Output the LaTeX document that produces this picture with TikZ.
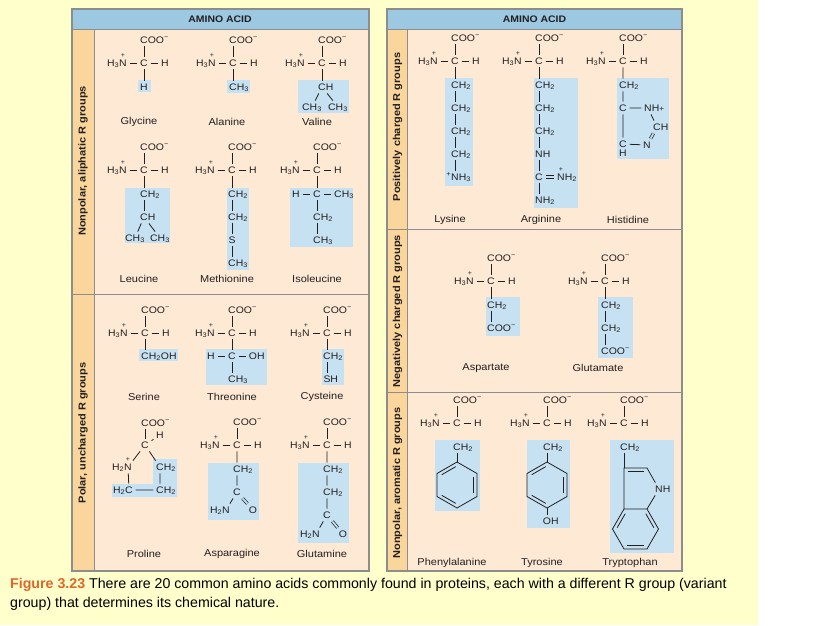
\documentclass[tikz,border=0pt]{standalone}
\usepackage{fontspec}
\setmainfont{Liberation Sans}[FakeStretch=1.1]
\newfontfamily\capfont{Liberation Sans}
\usetikzlibrary{calc}

\definecolor{bgyellow}{HTML}{FFFFCC}
\definecolor{panel}{HTML}{FDE9D4}
\definecolor{strip}{HTML}{FAD59C}
\definecolor{headblue}{HTML}{9CC8E1}
\definecolor{rblue}{HTML}{C6E1F1}
\definecolor{rulegrey}{HTML}{8D8D8D}
\definecolor{figorange}{HTML}{E0662A}
\definecolor{ink}{HTML}{231F20}

\newcommand{\Two}{\textsubscript{2}}
\newcommand{\Three}{\textsubscript{3}}
\newcommand{\Minus}{\textsuperscript{−}}

\tikzset{
  atom/.style={inner xsep=2.6pt, inner ysep=2.8pt, font=\fontsize{9.5}{11}\selectfont, text height=6.8pt, text depth=0pt, text=ink},
  charge/.style={font=\fontsize{6.5}{6.5}\selectfont, inner sep=0pt, text=ink, label distance=-1.5pt},
  bond/.style={draw=ink, line width=0.8pt},
  dbl/.style={draw=ink, line width=0.7pt, double=rblue, double distance=1.8pt},
  inner/.style={shorten >=1.5pt, shorten <=1.5pt},
  aaname/.style={font=\fontsize{10}{12}\selectfont, text=ink, inner sep=0pt},
  grouplabel/.style={font=\fontsize{10}{12}\selectfont\bfseries, rotate=90, text=ink, inner sep=0pt},
  header/.style={font=\fontsize{9.5}{11}\selectfont\bfseries, text=ink, inner sep=0pt},
  caption/.style={anchor=base west, inner sep=0pt, font=\capfont\fontsize{14.2}{19}\selectfont},
  rule/.style={draw=rulegrey, line width=0.8pt},
  frame/.style={draw=rulegrey, line width=1.2pt},
}

% backbone: id, x, y of the alpha carbon
\newcommand{\aminoacid}[3]{%
  \node[atom] (#1-c) at (#2,#3) {C};
  \node[atom] (#1-coo) at (#2,#3-23) {C\rlap{OO\Minus}};
  \node[atom, label={[charge]above:+}] (#1-n) at (#2-21,#3) {\llap{H\Three}N};
  \node[atom] (#1-h) at (#2+21,#3) {H};
  \draw[bond] (#1-coo) -- (#1-c);
  \draw[bond] (#1-n) -- (#1-c) -- (#1-h);
}

% benzene ring, pointy top: id, x, y of the centre
\newcommand{\benzene}[3]{%
  \coordinate (#10) at (#2,#3);
  \coordinate (#11) at (#2,#3-23);
  \coordinate (#12) at (#2+20,#3-11.5);
  \coordinate (#13) at (#2+20,#3+11.5);
  \coordinate (#14) at (#2,#3+23);
  \coordinate (#15) at (#2-20,#3+11.5);
  \coordinate (#16) at (#2-20,#3-11.5);
  \draw[bond] (#11) -- (#12) -- (#13) -- (#14) -- (#15) -- (#16) -- cycle;
  \draw[bond, inner] ($(#12)!.17!(#10)$) -- ($(#13)!.17!(#10)$);
  \draw[bond, inner] ($(#14)!.17!(#10)$) -- ($(#15)!.17!(#10)$);
  \draw[bond, inner] ($(#16)!.17!(#10)$) -- ($(#11)!.17!(#10)$);
}

\begin{document}
\begin{tikzpicture}[x=1pt, y=-1pt]
  \useasboundingbox (0,0) rectangle (828,625);
  \fill[bgyellow] (0,0) rectangle (758,625);
  \fill[white] (758,0) rectangle (828,625);

  % left table
  \fill[panel] (72,9) rectangle (369,571);
  \fill[strip] (72,29) rectangle (94,571);
  \fill[headblue] (72,9) rectangle (369,29);
  \draw[rule] (94,29) -- (94,571);
  \draw[rule] (72,29) -- (369,29);
  \draw[rule] (72,294) -- (369,294);
  \draw[frame] (72,9) rectangle (369,571);
  \node[header] (lhead) at (220,19) {AMINO ACID};
  \node[grouplabel] (lside1) at (83,161) {Nonpolar, aliphatic R groups};
  \node[grouplabel] (lside2) at (83,433) {Polar, uncharged R groups};

  % right table
  \fill[panel] (387,9) rectangle (682,571);
  \fill[strip] (387,29) rectangle (407,571);
  \fill[headblue] (387,9) rectangle (682,29);
  \draw[rule] (407,29) -- (407,571);
  \draw[rule] (387,29) -- (682,29);
  \draw[rule] (387,229) -- (682,229);
  \draw[rule] (387,392) -- (682,392);
  \draw[frame] (387,9) rectangle (682,571);
  \node[header] (rhead) at (534.5,19) {AMINO ACID};
  \node[grouplabel] (rside1) at (397.5,127) {Positively charged R groups};
  \node[grouplabel] (rside2) at (397.5,311) {Negatively charged R groups};
  \node[grouplabel] (rside3) at (397.5,483) {Nonpolar, aromatic R groups};

  % R group boxes
  \fill[rblue] (138,80) rectangle (151,92);
  \fill[rblue] (227,80) rectangle (250,93);
  \fill[rblue] (298,80) rectangle (349,113);
  \fill[rblue] (125,188) rectangle (170,243);
  \fill[rblue] (227,188) rectangle (249,270);
  \fill[rblue] (290,188) rectangle (353,247);
  \fill[rblue] (139,349) rectangle (178,361);
  \fill[rblue] (206,349) rectangle (267,385);
  \fill[rblue] (322,349) rectangle (344,385);
  \fill[rblue] (153,459) -- (177,459) -- (177,497) -- (112,497) -- (112,484) -- (153,484) -- cycle;
  \fill[rblue] (208,463) rectangle (259,520);
  \fill[rblue] (298,463) rectangle (349,543);
  \fill[rblue] (445,78) rectangle (473,186);
  \fill[rblue] (534,78) rectangle (578,208);
  \fill[rblue] (617,78) rectangle (669,159);
  \fill[rblue] (486,297) rectangle (520,336);
  \fill[rblue] (598,297) rectangle (633,358);
  \fill[rblue] (435,440) rectangle (480,511);
  \fill[rblue] (527,440) rectangle (570,528);
  \fill[rblue] (610,440) rectangle (674,553);

  % glycine
  \aminoacid{gly}{144}{63}
  \node[atom] (gly-r1) at (144,87) {H};
  \draw[bond] (gly-c) -- (gly-r1);
  % alanine
  \aminoacid{ala}{233}{63}
  \node[atom] (ala-r1) at (233,87) {C\rlap{H\Three}};
  \draw[bond] (ala-c) -- (ala-r1);
  % valine
  \aminoacid{val}{322}{63}
  \node[atom] (val-r1) at (322,87) {C\rlap{H}};
  \node[atom] (val-r2) at (312,107) {CH\Three};
  \node[atom] (val-r3) at (338,107) {CH\Three};
  \draw[bond] (val-c) -- (val-r1);
  \draw[bond] (val-r1) -- (val-r2);
  \draw[bond] (val-r1) -- (val-r3);

  % leucine
  \aminoacid{leu}{144}{170}
  \node[atom] (leu-r1) at (144,194) {C\rlap{H\Two}};
  \node[atom] (leu-r2) at (144,217) {C\rlap{H}};
  \node[atom] (leu-r3) at (135,238) {CH\Three};
  \node[atom] (leu-r4) at (160,238) {CH\Three};
  \draw[bond] (leu-c) -- (leu-r1) -- (leu-r2);
  \draw[bond] (leu-r2) -- (leu-r3);
  \draw[bond] (leu-r2) -- (leu-r4);
  % methionine
  \aminoacid{met}{232}{170}
  \node[atom] (met-r1) at (232,194) {C\rlap{H\Two}};
  \node[atom] (met-r2) at (232,217) {C\rlap{H\Two}};
  \node[atom] (met-r3) at (232,240) {S};
  \node[atom] (met-r4) at (232,263) {C\rlap{H\Three}};
  \draw[bond] (met-c) -- (met-r1) -- (met-r2) -- (met-r3) -- (met-r4);
  % isoleucine
  \aminoacid{ile}{317}{170}
  \node[atom] (ile-r1) at (317,194) {C};
  \node[atom] (ile-r0) at (296,194) {H};
  \node[atom] (ile-r2) at (338,194) {C\rlap{H\Three}};
  \node[atom] (ile-r3) at (317,217) {C\rlap{H\Two}};
  \node[atom] (ile-r4) at (317,240) {C\rlap{H\Three}};
  \draw[bond] (ile-c) -- (ile-r1) -- (ile-r3) -- (ile-r4);
  \draw[bond] (ile-r0) -- (ile-r1) -- (ile-r2);

  % serine
  \aminoacid{ser}{145}{333}
  \node[atom] (ser-r1) at (145,356) {C\rlap{H\Two OH}};
  \draw[bond] (ser-c) -- (ser-r1);
  % threonine
  \aminoacid{thr}{232}{333}
  \node[atom] (thr-r1) at (232,356) {C};
  \node[atom] (thr-r0) at (211,356) {H};
  \node[atom] (thr-r2) at (253,356) {O\rlap{H}};
  \node[atom] (thr-r3) at (232,379) {C\rlap{H\Three}};
  \draw[bond] (thr-c) -- (thr-r1) -- (thr-r3);
  \draw[bond] (thr-r0) -- (thr-r1) -- (thr-r2);
  % cysteine
  \aminoacid{cys}{327}{333}
  \node[atom] (cys-r1) at (327,356) {C\rlap{H\Two}};
  \node[atom] (cys-r2) at (327,379) {S\rlap{H}};
  \draw[bond] (cys-c) -- (cys-r1) -- (cys-r2);

  % proline
  \node[atom] (pro-coo) at (145,423) {C\rlap{OO\Minus}};
  \node[atom] (pro-c) at (145,445) {C};
  \node[atom] (pro-h) at (160,435) {H};
  \node[atom, label={[charge]above:+}] (pro-n) at (128,467) {\llap{H\Two}N};
  \node[atom] (pro-r1) at (160,467) {C\rlap{H\Two}};
  \node[atom] (pro-r2) at (160,490) {C\rlap{H\Two}};
  \node[atom] (pro-r3) at (129,490) {\llap{H\Two}C};
  \draw[bond] (pro-coo) -- (pro-c);
  \draw[bond] (pro-c) -- (pro-h);
  \draw[bond] (pro-c) -- (pro-n) -- (pro-r3) -- (pro-r2) -- (pro-r1) -- (pro-c);
  % asparagine
  \aminoacid{asn}{237}{445}
  \node[atom] (asn-r1) at (237,469) {C\rlap{H\Two}};
  \node[atom] (asn-r2) at (237,492) {C};
  \node[atom] (asn-r3) at (226,510) {\llap{H\Two}N};
  \node[atom] (asn-r4) at (253,510) {O};
  \draw[bond] (asn-c) -- (asn-r1) -- (asn-r2) -- (asn-r3);
  \draw[dbl] (asn-r2) -- (asn-r4);
  % glutamine
  \aminoacid{gln}{327}{445}
  \node[atom] (gln-r1) at (327,469) {C\rlap{H\Two}};
  \node[atom] (gln-r2) at (327,492) {C\rlap{H\Two}};
  \node[atom] (gln-r3) at (327,515) {C};
  \node[atom] (gln-r4) at (316,534) {\llap{H\Two}N};
  \node[atom] (gln-r5) at (343,534) {O};
  \draw[bond] (gln-c) -- (gln-r1) -- (gln-r2) -- (gln-r3) -- (gln-r4);
  \draw[dbl] (gln-r3) -- (gln-r5);

  % lysine
  \aminoacid{lys}{455}{61}
  \node[atom] (lys-r1) at (455,85) {C\rlap{H\Two}};
  \node[atom] (lys-r2) at (455,108) {C\rlap{H\Two}};
  \node[atom] (lys-r3) at (455,131) {C\rlap{H\Two}};
  \node[atom] (lys-r4) at (455,154) {C\rlap{H\Two}};
  \node[atom] (lys-r5) at (455,177) {\llap{\textsuperscript{+}}N\rlap{H\Three}};
  \draw[bond] (lys-c) -- (lys-r1) -- (lys-r2) -- (lys-r3) -- (lys-r4) -- (lys-r5);
  % arginine
  \aminoacid{arg}{539}{61}
  \node[atom] (arg-r1) at (539,85) {C\rlap{H\Two}};
  \node[atom] (arg-r2) at (539,108) {C\rlap{H\Two}};
  \node[atom] (arg-r3) at (539,131) {C\rlap{H\Two}};
  \node[atom] (arg-r4) at (539,154) {N\rlap{H}};
  \node[atom] (arg-r5) at (539,177) {C};
  \node[atom, label={[charge]above:+}] (arg-r6) at (561,177) {N\rlap{H\Two}};
  \node[atom] (arg-r7) at (539,200) {N\rlap{H\Two}};
  \draw[bond] (arg-c) -- (arg-r1) -- (arg-r2) -- (arg-r3) -- (arg-r4) -- (arg-r5) -- (arg-r7);
  \draw[dbl] (arg-r5) -- (arg-r6);
  % histidine
  \aminoacid{his}{623}{61}
  \node[atom] (his-r1) at (623,85) {C\rlap{H\Two}};
  \node[atom] (his-r2) at (623,108) {C};
  \node[atom] (his-r3) at (648,108) {N\rlap{H{\fontsize{7.5}{7.5}\selectfont+}}};
  \node[atom] (his-r4) at (657,127) {C\rlap{H}};
  \node[atom] (his-r5) at (647,145) {N};
  \node[atom] (his-r6) at (623,144) {C};
  \node[atom, inner sep=0pt] (his-r7) at (623,153.5) {H};
  \draw[bond] (his-c) -- (his-r1) -- (his-r2) -- (his-r3) -- (his-r4);
  \draw[dbl] (his-r4) -- (his-r5);
  \draw[bond] (his-r5) -- (his-r6) -- (his-r2);

  % aspartate
  \aminoacid{asp}{491}{281}
  \node[atom] (asp-r1) at (491,305) {C\rlap{H\Two}};
  \node[atom] (asp-r2) at (491,328) {C\rlap{OO\Minus}};
  \draw[bond] (asp-c) -- (asp-r1) -- (asp-r2);
  % glutamate
  \aminoacid{glu}{605}{281}
  \node[atom] (glu-r1) at (605,305) {C\rlap{H\Two}};
  \node[atom] (glu-r2) at (605,328) {C\rlap{H\Two}};
  \node[atom] (glu-r3) at (605,351) {C\rlap{OO\Minus}};
  \draw[bond] (glu-c) -- (glu-r1) -- (glu-r2) -- (glu-r3);

  % phenylalanine
  \aminoacid{phe}{457}{423}
  \node[atom] (phe-r1) at (457,447) {C\rlap{H\Two}};
  \benzene{phe}{457}{485}
  \draw[bond] (phe-r1) -- (phe1);
  % tyrosine
  \aminoacid{tyr}{547}{423}
  \node[atom] (tyr-r1) at (547,447) {C\rlap{H\Two}};
  \benzene{tyr}{547}{485}
  \node[atom] (tyr-r2) at (547,521) {O\rlap{H}};
  \draw[bond] (tyr-r1) -- (tyr1);
  \draw[bond] (tyr4) -- (tyr-r2);
  % tryptophan
  \aminoacid{trp}{624}{423}
  \node[atom] (trp-r1) at (624,447) {C\rlap{H\Two}};
  \coordinate (trp3) at (624,468);
  \coordinate (trp2) at (647,468);
  \node[atom] (trp-nh) at (659,489) {N\rlap{H}};
  \coordinate (trp7a) at (647,509);
  \coordinate (trp3a) at (624,509);
  \coordinate (trp4) at (612.5,529);
  \coordinate (trp5) at (624,549);
  \coordinate (trp6) at (647,549);
  \coordinate (trp7) at (658.5,529);
  \coordinate (trp0) at (635.5,529);
  \coordinate (trp00) at (637,488);
  \draw[bond] (trp-r1) -- (trp3);
  \draw[bond] (trp3a) -- (trp3) -- (trp2) -- (trp-nh) -- (trp7a) -- (trp3a) -- (trp4) -- (trp5) -- (trp6) -- (trp7) -- (trp7a);
  \draw[bond, inner] ($(trp3)!.17!(trp00)$) -- ($(trp2)!.17!(trp00)$);
  \draw[bond, inner] ($(trp3a)!.17!(trp0)$) -- ($(trp4)!.17!(trp0)$);
  \draw[bond, inner] ($(trp5)!.17!(trp0)$) -- ($(trp6)!.17!(trp0)$);
  \draw[bond, inner] ($(trp7)!.17!(trp0)$) -- ($(trp7a)!.17!(trp0)$);

  % names
  \node[aaname] (gly) at (139,122) {Glycine};
  \node[aaname] (ala) at (227,122) {Alanine};
  \node[aaname] (val) at (317,122) {Valine};
  \node[aaname] (leu) at (139,279) {Leucine};
  \node[aaname] (met) at (227,279) {Methionine};
  \node[aaname] (ile) at (317,279) {Isoleucine};
  \node[aaname] (ser) at (144,397) {Serine};
  \node[aaname] (thr) at (232,397) {Threonine};
  \node[aaname] (cys) at (322,397) {Cysteine};
  \node[aaname] (pro) at (144,554) {Proline};
  \node[aaname] (asn) at (232,554) {Asparagine};
  \node[aaname] (gln) at (322,554) {Glutamine};
  \node[aaname] (lys) at (450,220) {Lysine};
  \node[aaname] (arg) at (541,220) {Arginine};
  \node[aaname] (his) at (628,220) {Histidine};
  \node[aaname] (asp) at (486,368) {Aspartate};
  \node[aaname] (glu) at (598,368) {Glutamate};
  \node[aaname] (phe) at (452,563) {Phenylalanine};
  \node[aaname] (tyr) at (542,563) {Tyrosine};
  \node[aaname] (trp) at (630,563) {Tryptophan};

  % caption
  \node[caption] (cap1) at (10,588)
    {{\color{figorange}\bfseries Figure 3.23} There are 20 common amino acids commonly found in proteins, each with a different R group (variant};
  \node[caption] (cap2) at (10,607) {group) that determines its chemical nature.};
\end{tikzpicture}
\end{document}
